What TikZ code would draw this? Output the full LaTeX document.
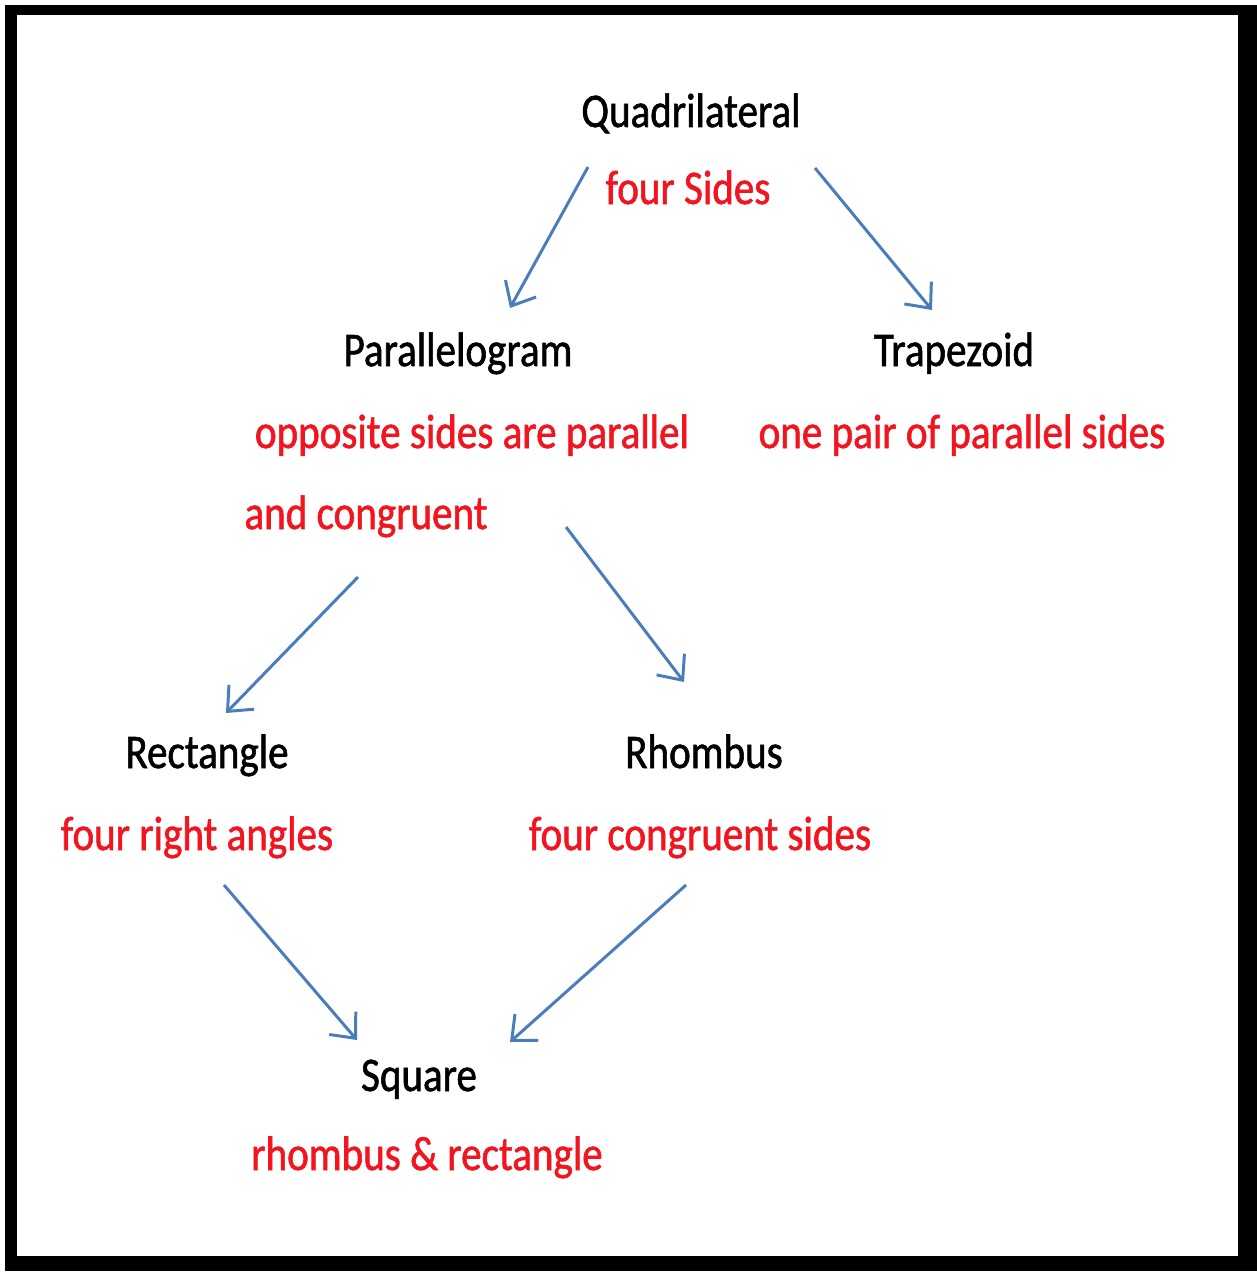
\documentclass[tikz,border=0pt]{standalone}
\usepackage{fontspec}
\setmainfont{Carlito}[FakeStretch=0.85,FakeBold=1.2]
\usetikzlibrary{arrows.meta}
\definecolor{arrowblue}{HTML}{4A7EBB}
\definecolor{rulered}{HTML}{F2141E}
\begin{document}
\begin{tikzpicture}[x=0.02cm,y=-0.02cm]
	\tikzstyle{every node}=[inner sep=0pt,anchor=base,font=\fontsize{27.5}{32}\selectfont];
	\tikzstyle{kind}=[text=black];
	\tikzstyle{rule}=[text=rulered];
	\tikzstyle{arr}=[draw=arrowblue,line width=1.7pt,-{Straight Barb[length=4mm,width=7mm]}];
	\useasboundingbox (0,0) rectangle (1257,1274);
	\fill[black] (5,5) rectangle (1257,1271);
	\fill[white] (17,15) rectangle (1238,1256);
	\path (691,127)  node[kind] (quad)  {Quadrilateral};
	\path (688,204)  node[rule] (sides) {four Sides};
	\path (458,366)  node[kind] (para)  {Parallelogram};
	\path (472,448)  node[rule] (opp)   {opposite sides are parallel};
	\path (366,529)  node[rule] (cong)  {and congruent};
	\path (954,366)  node[kind] (trap)  {Trapezoid};
	\path (962,448)  node[rule] (pair)  {one pair of parallel sides};
	\path (207,768)  node[kind] (rect)  {Rectangle};
	\path (197,850)  node[rule] (right) {four right angles};
	\path (704,768)  node[kind] (rhom)  {Rhombus};
	\path (700,850)  node[rule] (csides) {four congruent sides};
	\path (419,1091) node[kind] (sq)    {Square};
	\path (427,1170) node[rule] (both)  {rhombus \& rectangle};
	\draw[arr] ([shift={(-100,-37)}]sides.base) -- ([shift={(52,-58)}]para.base);
	\draw[arr] ([shift={(127,-36)}]sides.base) -- ([shift={(-22,-56)}]trap.base);
	\draw[arr] ([shift={(-8,48)}]cong.base) -- ([shift={(19,-55)}]rect.base);
	\draw[arr] ([shift={(200,-2)}]cong.base) -- ([shift={(-20,-86)}]rhom.base);
	\draw[arr] ([shift={(27,35)}]right.base) -- ([shift={(-62,-51)}]sq.base);
	\draw[arr] ([shift={(-14,35)}]csides.base) -- ([shift={(91,-49)}]sq.base);
\end{tikzpicture}
\end{document}
